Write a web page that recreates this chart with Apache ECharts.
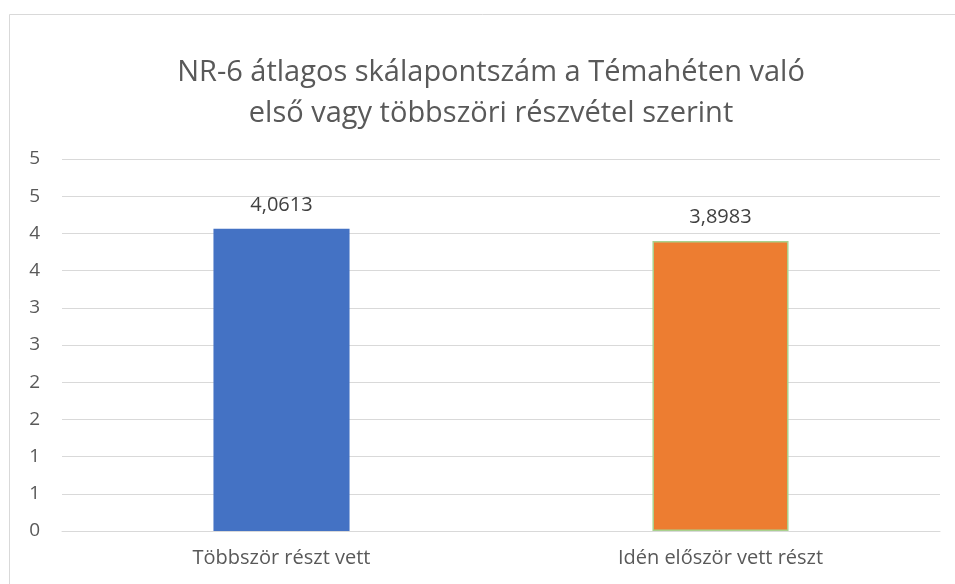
<!DOCTYPE html>
<html>
<head>
<meta charset="utf-8">
<script src="https://cdn.jsdelivr.net/npm/echarts@6/dist/echarts.min.js"></script>
<style>
  html, body { margin: 0; padding: 0; background: #fff; }
  #main { width: 955px; height: 584px; }
</style>
</head>
<body>
<div id="main"></div>
<script>
var categories = ['Többször részt vett', 'Idén először vett részt'];
var values = [4.0613, 3.8983];
var barColors = ['#4472C4', '#ED7D31'];
var barBorders = ['#4472C4', '#A9D18E'];
// Excel shows 0.5 steps rounded to whole numbers
var yTickLabels = ['0', '1', '1', '2', '2', '3', '3', '4', '4', '5', '5'];

var myChart = echarts.init(document.getElementById('main'));

var font = '"Open Sans", "Noto Sans", sans-serif';

var option = {
    animation: false,
    backgroundColor: '#fff',
    textStyle: { fontFamily: font },
    title: {
        text: 'NR-6 átlagos skálapontszám a Témahéten való\nelső vagy többszöri részvétel szerint',
        left: 486,
        top: 47,
        textAlign: 'center',
        textStyle: {
            fontFamily: font,
            fontSize: 29,
            fontWeight: 'normal',
            color: '#595959',
            lineHeight: 41
        }
    },
    graphic: [{
        type: 'rect',
        shape: { x: 9.5, y: 14.5, width: 960, height: 600 },
        style: { fill: 'none', stroke: '#d9d9d9', lineWidth: 1 },
        silent: true
    }],
    grid: {
        left: 62,
        right: 15,
        top: 159,
        bottom: 53,
        containLabel: false
    },
    xAxis: {
        type: 'category',
        data: categories,
        axisLine: { show: true, lineStyle: { color: '#d9d9d9' } },
        axisTick: { show: false },
        axisLabel: {
            color: '#595959',
            fontSize: 20,
            margin: 17,
            fontFamily: font
        }
    },
    yAxis: {
        type: 'value',
        min: 0,
        max: 5,
        interval: 0.5,
        axisLine: { show: false },
        axisTick: { show: false },
        splitLine: { lineStyle: { color: '#d9d9d9', width: 1 } },
        axisLabel: {
            color: '#595959',
            fontSize: 19,
            margin: 22,
            fontFamily: font,
            formatter: function (v) {
                return yTickLabels[Math.round(v / 0.5)];
            }
        }
    },
    series: [{
        type: 'bar',
        barWidth: '31%',
        data: values.map(function (v, i) {
            return {
                value: v,
                itemStyle: {
                    color: barColors[i],
                    borderColor: barBorders[i],
                    borderWidth: i === 1 ? 1.5 : 0
                }
            };
        }),
        label: {
            show: true,
            position: 'top',
            distance: 14,
            color: '#404040',
            fontSize: 20,
            fontFamily: font,
            formatter: function (p) {
                return p.value.toFixed(4).replace('.', ',');
            }
        }
    }]
};

myChart.setOption(option);
</script>
</body>
</html>
